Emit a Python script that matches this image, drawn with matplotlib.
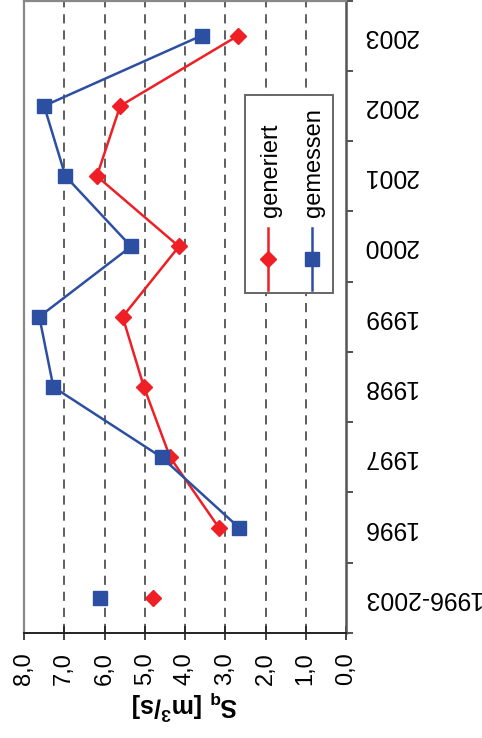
"""S_q generiert vs. gemessen, rotated chart layout."""
import matplotlib
matplotlib.use("Agg")
import matplotlib.pyplot as plt
from matplotlib.patches import Rectangle
from matplotlib.lines import Line2D
from matplotlib.ticker import FixedLocator

plt.rcParams["font.family"] = ["Liberation Sans", "DejaVu Sans"]
plt.rcParams["mathtext.fontset"] = "custom"
plt.rcParams["mathtext.rm"] = "Liberation Sans:bold"
plt.rcParams["mathtext.bf"] = "Liberation Sans:bold"

categories = ["1996-2003", "1996", "1997", "1998", "1999", "2000", "2001", "2002", "2003"]
generiert = [4.79, 3.16, 4.37, 5.02, 5.55, 4.15, 6.19, 5.61, 2.68]
gemessen = [6.10, 2.66, 4.58, 7.27, 7.62, 5.34, 6.97, 7.50, 3.59]
value_ticks = [0, 1, 2, 3, 4, 5, 6, 7, 8]

RED = "#ee2026"
BLUE = "#2d4fa1"

fig = plt.figure(figsize=(4.82, 7.38), dpi=100)
W, H = 482, 738
ax = fig.add_axes([24 / W, (H - 633) / H, (346 - 24) / W, 632.5 / H])

pos = list(range(len(categories)))

for x in value_ticks[1:-1]:
    ax.axvline(x, color="#333333", lw=1.1, ls=(0, (6, 4.5)), zorder=1)

# yearly values joined by lines, overall value as lone marker
ax.plot(generiert[1:], pos[1:], color=RED, lw=1.8, marker="D", ms=7.8,
        mec=RED, mfc=RED, zorder=3)
ax.plot(generiert[:1], pos[:1], ls="none", marker="D", ms=7.8,
        mec=RED, mfc=RED, zorder=3)
ax.plot(gemessen[1:], pos[1:], color=BLUE, lw=1.8, marker="s", ms=10,
        mec=BLUE, mfc=BLUE, zorder=3)
ax.plot(gemessen[:1], pos[:1], ls="none", marker="s", ms=10,
        mec=BLUE, mfc=BLUE, zorder=3)

ax.set_xlim(8, 0)
ax.set_ylim(-0.5, len(categories) - 0.5)

ax.set_xticks(value_ticks)
ax.set_xticklabels([f"{v:.1f}".replace(".", ",") for v in value_ticks],
                   rotation=90, fontsize=17)
ax.tick_params(axis="x", direction="inout", length=10, width=1.2,
               pad=9, color="#222222")

ax.yaxis.tick_right()
ax.set_yticks(pos)
ax.set_yticklabels(categories, rotation=180, fontsize=17.8, va="center")
ax.yaxis.set_minor_locator(FixedLocator([p - 0.5 for p in pos] + [pos[-1] + 0.5]))
ax.tick_params(axis="y", which="major", length=0, pad=12)
ax.tick_params(axis="y", which="minor", direction="out", length=5,
               width=1.2, color="#333333")

ax.set_xlabel(r"$\mathbf{S_q}$ [m$^\mathbf{3}$/s]", rotation=180,
              fontsize=18, fontweight="bold", labelpad=2)

for side in ("left", "top"):
    ax.spines[side].set_color("#888888")
    ax.spines[side].set_linewidth(1.6)
ax.spines["right"].set_color("#555555")
ax.spines["right"].set_linewidth(1.8)
ax.spines["bottom"].set_color("#222222")
ax.spines["bottom"].set_linewidth(1.4)

# hand-made legend, laid out like the rotated original
ax.add_patch(Rectangle((0.686, 0.538), 0.274, 0.312, transform=ax.transAxes,
                       fill=True, fc="white", ec="#666666", lw=1.4, zorder=4))
for xf, col, mk, ms, label in ((0.758, RED, "D", 7.8, "generiert"),
                               (0.894, BLUE, "s", 10, "gemessen")):
    ax.add_line(Line2D([xf, xf], [0.543, 0.641], transform=ax.transAxes,
                       color=col, lw=1.8, zorder=5))
    ax.add_line(Line2D([xf], [0.592], transform=ax.transAxes, color=col,
                       marker=mk, ms=ms, mfc=col, mec=col, zorder=5))
    ax.text(xf + 0.008, 0.657, label, transform=ax.transAxes, rotation=90,
            ha="center", va="bottom", fontsize=17, zorder=5)

fig.savefig("out.png", dpi=100)
